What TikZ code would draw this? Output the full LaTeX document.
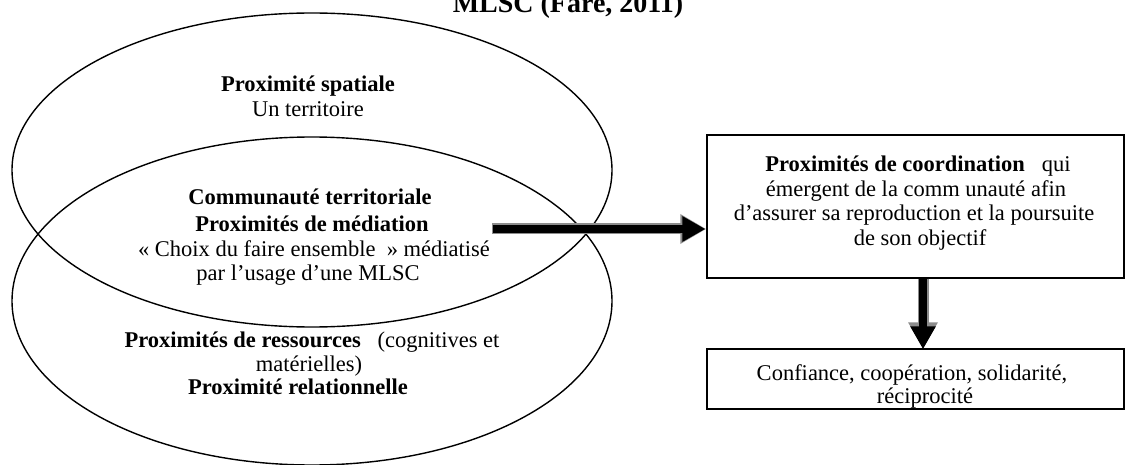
\documentclass[tikz,border=0pt]{standalone}
\usepackage{fontspec}
\setmainfont{Liberation Serif}
\usetikzlibrary{shapes.geometric,arrows.meta}
\tikzset{
  oval/.style={ellipse, draw, line width=1.4pt, inner sep=0pt, minimum width=600pt},
  txt/.style={anchor=base, inner sep=0pt, font=\fontsize{22.5}{25}\selectfont},
  btxt/.style={txt, font=\fontsize{22.5}{25}\selectfont\bfseries},
  box/.style={draw, line width=1.4pt, rectangle, inner sep=0pt, minimum width=417pt},
  arrowrim/.style={line width=11pt, -{Triangle[width=28pt,length=26pt]}, black!45},
  bigarrow/.style={line width=8pt, -{Triangle[width=24pt,length=23pt]}, black}
}
\begin{document}
\begin{tikzpicture}[x=1pt,y=-1pt]
\useasboundingbox (0,0) rectangle (1128,465);
% title
\node[btxt, font=\fontsize{28}{30}\selectfont\bfseries] (title) at (568,13) {MLSC (Fare, 2011)};
% ellipses
\node[oval, minimum height=314pt] (upper) at (312,170) {};
\node[oval, minimum height=328pt] (lower) at (312,301) {};
% upper texts
\node[btxt] (u1) at (308,92) {Proximité spatiale};
\node[txt] (u2) at (308,117) {Un territoire};
% middle texts
\node[btxt] (m1) at (310,205) {Communauté territoriale};
\node[btxt] (m2) at (312,232) {Proximités de médiation};
\node[txt] (m3) at (314,257) {« Choix du faire ensemble~~» médiatisé};
\node[txt] (m4) at (308,281) {par l’usage d’une MLSC};
% lower texts
\node[txt] (l1) at (312,348) {\textbf{Proximités de ressources}~~~(cognitives et};
\node[txt] (l2) at (309,371) {matérielles)};
\node[btxt] (l3) at (298,394) {Proximité relationnelle};
% boxes
\node[box, minimum height=143pt] (box1) at (915.5,206.5) {};
\node[box, minimum height=60pt] (box2) at (915.5,379) {};
\node[txt] (b1) at (918,172) {\textbf{Proximités de coordination}~~~qui};
\node[txt] (b2) at (916,197) {émergent de la comm unauté afin};
\node[txt] (b3) at (914,221) {d’assurer sa reproduction et la poursuite};
\node[txt] (b4) at (920,246) {de son objectif};
\node[txt] (c1) at (912,380) {Confiance, coopération, solidarité,};
\node[txt] (c2) at (925,403) {réciprocité};
% arrows
\coordinate (a0) at (492,229);
\draw[arrowrim] (a0) -- (a0 -| box1.west);
\draw[bigarrow] ([xshift=1pt]a0) -- ([xshift=-1pt]a0 -| box1.west);
\draw[arrowrim] ([xshift=7.5pt]box1.south) -- ([xshift=7.5pt]box2.north);
\draw[bigarrow] ([xshift=7.5pt,yshift=1pt]box1.south) -- ([xshift=7.5pt,yshift=-1pt]box2.north);
\end{tikzpicture}
\end{document}
